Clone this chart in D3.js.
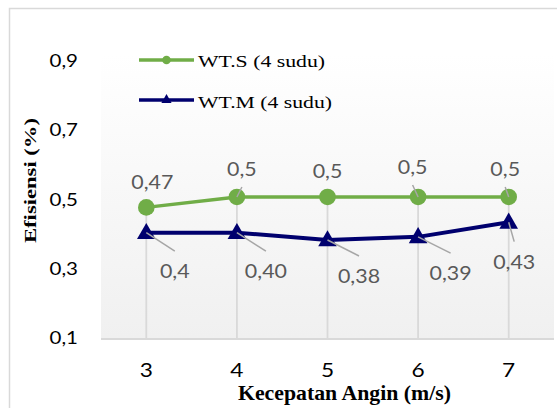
<!DOCTYPE html>
<html>
<head>
<meta charset="utf-8">
<script src="https://cdn.jsdelivr.net/npm/d3@7"></script>
<style>
  html, body { margin: 0; padding: 0; background: #fff; }
  svg { display: block; }
</style>
</head>
<body>
<svg id="chart" width="557" height="408"></svg>
<script>
// ---------- data ----------
const categories = ["3", "4", "5", "6", "7"];
const seriesNames = ["WT.S (4 sudu)", "WT.M (4 sudu)"];
const valuesS = [0.478, 0.508, 0.508, 0.508, 0.508];
const valuesM = [0.405, 0.405, 0.384, 0.393, 0.435];
const labelsS = ["0,47", "0,5", "0,5", "0,5", "0,5"];
const labelsM = ["0,4", "0,40", "0,38", "0,39", "0,43"];
const yTicks = [0.1, 0.3, 0.5, 0.7, 0.9];
const yTickLabels = ["0,1", "0,3", "0,5", "0,7", "0,9"];
const xTitle = "Kecepatan Angin (m/s)";
const yTitle = "Efisiensi (%)";

// ---------- layout (label offsets relative to point) ----------
const offS = [[6, -18], [5, -21], [0, -19], [-5.5, -23], [-3.5, -21]];
const offM = [[28.5, 45.5], [29, 45.5], [31.5, 43], [32.5, 43.3], [5.5, 46.3]];
const leaderS = [false, true, false, true, true];
const leaderM = [true, true, true, true, true];

const svg = d3.select("#chart");
const green = "#70ad47", navy = "#00006e", grid = "#d9d9d9";
const sansFont = "Lato, 'Open Sans', sans-serif";
const serifFont = "'Liberation Serif', 'Times New Roman', serif";

const plot = { left: 101, right: 554, top: 61, bottom: 338.5 };
const x = d3.scalePoint().domain(categories).range([plot.left, plot.right]).padding(0.5);
const y = d3.scaleLinear().domain([0.1, 0.9]).range([plot.bottom, plot.top]);

function stext(parent, px, py, str, o) {
  return parent.append("text")
    .attr("transform", `translate(${px},${py}) scale(${o.sx || 1},1)`)
    .attr("text-anchor", o.anchor || "start")
    .attr("font-family", o.family || sansFont)
    .attr("font-size", o.size)
    .attr("font-weight", o.weight || "normal")
    .attr("fill", o.fill || "#000")
    .text(str);
}

// outer border
svg.append("rect").attr("x", 9.5).attr("y", 8.5).attr("width", 600).attr("height", 450)
  .attr("fill", "#fff").attr("stroke", grid).attr("stroke-width", 1.5);

// plot background gradient
const defs = svg.append("defs");
const grad = defs.append("linearGradient").attr("id", "bg").attr("x1", 0).attr("y1", 0).attr("x2", 0).attr("y2", 1);
grad.append("stop").attr("offset", "0%").attr("stop-color", "#ffffff");
grad.append("stop").attr("offset", "100%").attr("stop-color", "#f0f0f0");
svg.append("rect").attr("x", plot.left).attr("y", 55).attr("width", plot.right - plot.left)
  .attr("height", plot.bottom - 55).attr("fill", "url(#bg)");

// drop lines
svg.append("g").selectAll("line").data(categories).join("line")
  .attr("x1", d => x(d)).attr("x2", d => x(d))
  .attr("y1", (d, i) => y(Math.max(valuesS[i], valuesM[i])))
  .attr("y2", plot.bottom)
  .attr("stroke", grid).attr("stroke-width", 1.8);

// baseline axis
svg.append("line").attr("x1", plot.left).attr("x2", plot.right)
  .attr("y1", 339).attr("y2", 339).attr("stroke", grid).attr("stroke-width", 2);

// y tick labels
yTicks.forEach((t, i) => {
  stext(svg, 78, y(t) + 5.8, yTickLabels[i], { anchor: "end", size: 16.4, sx: 1.25, fill: "#000" });
});
// x tick labels
categories.forEach(c => {
  stext(svg, x(c), 376.7, c, { anchor: "middle", size: 18.6, sx: 1.22, fill: "#000" });
});

// lines
const line = d3.line().x((d, i) => x(categories[i])).y(d => y(d));
svg.append("path").datum(valuesS).attr("d", line).attr("fill", "none")
  .attr("stroke", green).attr("stroke-width", 3.5).attr("stroke-linejoin", "round");
svg.append("path").datum(valuesM).attr("d", line).attr("fill", "none")
  .attr("stroke", navy).attr("stroke-width", 4).attr("stroke-linejoin", "round");

// markers
svg.append("g").selectAll("circle").data(valuesS).join("circle")
  .attr("cx", (d, i) => x(categories[i])).attr("cy", d => y(d)).attr("r", 8.3)
  .attr("fill", green);
const tri = d3.symbol().type(d3.symbolTriangle).size(150);
svg.append("g").selectAll("path").data(valuesM).join("path")
  .attr("transform", (d, i) => `translate(${x(categories[i])},${y(d) + 1})`)
  .attr("d", tri).attr("fill", navy);

// data labels + leader lines
function drawLabels(vals, labels, offs, leaders, above) {
  vals.forEach((v, i) => {
    const px = x(categories[i]), py = y(v);
    const lx = px + offs[i][0], ly = py + offs[i][1];
    if (leaders[i]) {
      const ex = lx, ey = above ? ly + 11 : ly - 27;
      svg.append("line").attr("x1", px).attr("y1", py).attr("x2", ex).attr("y2", ey)
        .attr("stroke", "#a6a6a6").attr("stroke-width", 1.5);
    }
    stext(svg, lx, ly, labels[i], { anchor: "middle", size: 20, sx: 1.07, fill: "#595959" });
  });
}
drawLabels(valuesS, labelsS, offS, leaderS, true);
drawLabels(valuesM, labelsM, offM, leaderM, false);

// legend
const lg = svg.append("g");
lg.append("line").attr("x1", 139).attr("x2", 194).attr("y1", 60).attr("y2", 60)
  .attr("stroke", green).attr("stroke-width", 3.5);
lg.append("circle").attr("cx", 166.5).attr("cy", 60).attr("r", 4.3).attr("fill", green);
lg.append("text").attr("x", 198).attr("y", 67.3).attr("font-family", serifFont)
  .attr("font-size", 17.7).attr("textLength", 127).attr("lengthAdjust", "spacingAndGlyphs")
  .attr("fill", "#000").text(seriesNames[0]);
lg.append("line").attr("x1", 139).attr("x2", 194).attr("y1", 100).attr("y2", 100)
  .attr("stroke", navy).attr("stroke-width", 3.5);
lg.append("path").attr("transform", "translate(166.5,100)")
  .attr("d", d3.symbol().type(d3.symbolTriangle).size(45)).attr("fill", navy);
lg.append("text").attr("x", 198).attr("y", 108).attr("font-family", serifFont)
  .attr("font-size", 17.7).attr("textLength", 134).attr("lengthAdjust", "spacingAndGlyphs")
  .attr("fill", "#000").text(seriesNames[1]);

// axis titles
svg.append("text").attr("x", 238).attr("y", 400).attr("font-family", serifFont)
  .attr("font-weight", "bold").attr("font-size", 21.5)
  .attr("textLength", 213).attr("lengthAdjust", "spacingAndGlyphs")
  .attr("fill", "#000").text(xTitle);
svg.append("text").attr("transform", "translate(36,243) rotate(-90)")
  .attr("x", 0).attr("y", 0).attr("font-family", serifFont)
  .attr("font-weight", "bold").attr("font-size", 16.6)
  .attr("textLength", 125).attr("lengthAdjust", "spacingAndGlyphs")
  .attr("fill", "#000").text(yTitle);
</script>
</body>
</html>
